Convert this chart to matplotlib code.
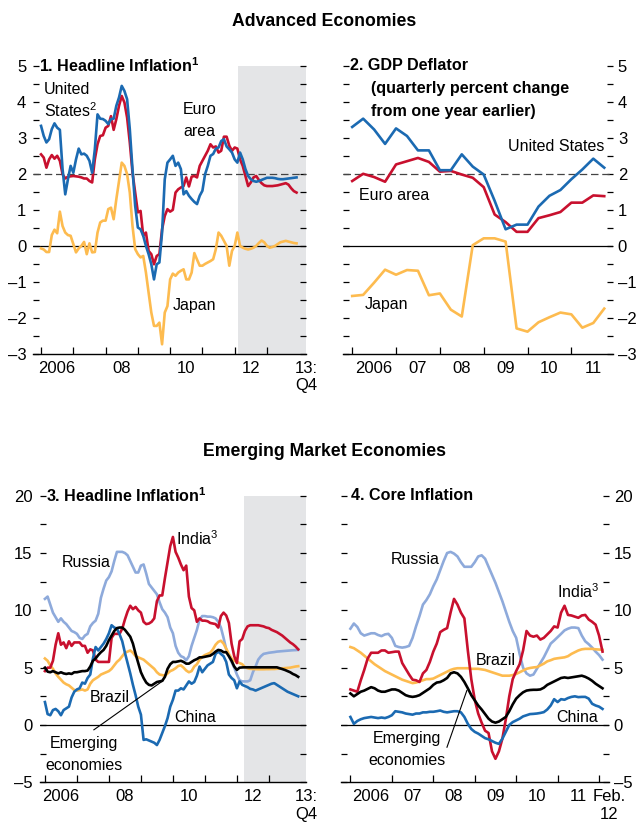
import numpy as np
import pandas as pd
import matplotlib
matplotlib.use('Agg')
import matplotlib.pyplot as plt
from matplotlib.transforms import blended_transform_factory

FONT = ['Liberation Sans', 'DejaVu Sans']
plt.rcParams['font.family'] = FONT
plt.rcParams['font.size'] = 11.5
plt.rcParams['mathtext.default'] = 'regular'

# ---------------- data ----------------
hl_dates = pd.period_range('2006-01', '2013-12', freq='M')
gdp_dates = pd.period_range('2006Q1', '2011Q4', freq='Q')
core_dates = pd.period_range('2006-01', '2012-02', freq='M')

us_headline = [3.33, 3.05, 2.87, 2.96, 3.24, 3.4, 3.28, 3.22, 2.13, 1.43, 1.85, 2.22,
               2.03, 2.4, 2.7, 2.54, 2.56, 2.5, 2.36, 2.03, 2.68, 3.65, 3.53, 3.52,
               3.47, 3.38, 3.52, 3.53, 3.89, 4.12, 4.44, 4.3, 4.07, 3.24, 2.13, 1.11,
               0.51, 0.46, 0.28, 0.0, -0.23, -0.51, -0.93, -0.51, -0.46, 0.37, 1.85, 2.31,
               2.4, 2.5, 2.22, 2.31, 2.13, 1.43, 1.52, 1.39, 1.3, 1.22, 1.16, 1.39,
               1.53, 1.99, 2.22, 2.5, 2.55, 2.7, 2.73, 2.91, 2.96, 2.76, 2.68, 2.59,
               2.4, 2.31, 2.59, 2.4, 2.13, 1.94, 1.85, 1.8, 1.78, 1.8, 1.83, 1.86,
               1.89, 1.89, 1.89, 1.88, 1.86, 1.85, 1.85, 1.86, 1.87, 1.88, 1.89, 1.9]
euro_headline = [2.54, 2.45, 2.17, 2.4, 2.52, 2.42, 2.5, 2.36, 1.99, 1.87, 1.92, 1.93,
                 1.94, 1.93, 1.92, 1.9, 1.87, 1.87, 1.8, 1.76, 2.4, 2.82, 3.05, 3.07,
                 3.28, 3.33, 3.6, 3.22, 3.52, 3.89, 4.16, 3.98, 3.56, 2.87, 2.04, 1.48,
                 0.93, 0.97, 0.28, 0.37, -0.14, -0.23, -0.51, -0.28, -0.23, 0.46, 0.83, 1.02,
                 0.95, 1.0, 1.48, 1.57, 1.62, 1.66, 1.9, 1.65, 1.92, 1.94, 1.9, 2.22,
                 2.36, 2.5, 2.64, 2.82, 2.73, 2.76, 2.59, 2.64, 3.03, 3.03, 2.78, 2.64,
                 2.73, 2.7, 2.4, 2.22, 1.94, 1.66, 1.76, 1.9, 1.94, 1.83, 1.74, 1.68,
                 1.66, 1.66, 1.66, 1.67, 1.68, 1.7, 1.72, 1.74, 1.7, 1.6, 1.52, 1.48]
japan_headline = [-0.07, -0.1, -0.17, -0.17, 0.3, 0.45, 0.35, 0.95, 0.55, 0.37, 0.3, 0.28,
                  0.05, -0.18, -0.07, 0.0, 0.11, -0.23, 0.07, -0.18, -0.17, 0.37, 0.65, 0.7,
                  0.7, 1.02, 1.06, 0.74, 1.3, 1.8, 2.31, 2.22, 1.99, 1.48, 0.56, -0.09,
                  -0.23, -0.32, -0.28, -0.74, -1.3, -1.85, -2.22, -2.22, -2.13, -2.73, -1.85, -1.67,
                  -0.93, -0.77, -0.83, -0.74, -0.69, -0.65, -0.93, -0.93, -0.74, -0.2, -0.38, -0.55,
                  -0.55, -0.5, -0.46, -0.42, -0.37, -0.09, 0.37, 0.28, 0.14, 0.0, -0.55, -0.14,
                  0.0, 0.37, 0.0, -0.05, -0.08, -0.1, -0.08, -0.05, 0.0, 0.08, 0.15, 0.1,
                  0.0, -0.05, -0.03, 0.0, 0.05, 0.1, 0.12, 0.14, 0.12, 0.1, 0.08, 0.07]

us_deflator = [3.3, 3.53, 3.23, 2.83, 3.26, 3.05, 2.65, 2.65, 2.1, 2.1, 2.54, 2.2,
               1.98, 1.25, 0.46, 0.59, 0.59, 1.09, 1.39, 1.55, 1.85, 2.12, 2.42, 2.17]
euro_deflator = [1.8, 2.0, 1.91, 1.78, 2.26, 2.35, 2.44, 2.33, 2.06, 2.08, 1.98, 1.89,
                 1.63, 0.87, 0.66, 0.39, 0.39, 0.77, 0.85, 0.94, 1.2, 1.2, 1.4, 1.38]
japan_deflator = [-1.39, -1.36, -1.02, -0.66, -0.8, -0.67, -0.69, -1.37, -1.32, -1.77, -1.96, 0.02,
                  0.21, 0.21, 0.12, -2.29, -2.38, -2.12, -1.98, -1.85, -1.9, -2.27, -2.14, -1.74]

russia_headline = [11.0, 11.2, 10.5, 9.8, 9.4, 9.0, 9.3, 9.0, 8.8, 8.5, 8.2, 8.1,
                   7.95, 7.6, 7.5, 7.8, 7.95, 8.6, 8.9, 9.1, 9.7, 11.1, 11.9, 12.6,
                   12.9, 13.4, 14.3, 15.1, 15.1, 15.1, 15.0, 14.8, 14.3, 13.8, 13.3, 13.3,
                   13.9, 14.0, 13.2, 12.3, 12.0, 11.7, 11.4, 10.7, 10.1, 9.8, 9.4, 8.5,
                   8.0, 6.9, 6.3, 6.0, 5.9, 5.65, 6.0, 6.9, 7.6, 8.3, 9.2, 9.5,
                   9.5, 9.45, 9.45, 9.4, 9.3, 9.0, 8.5, 7.6, 6.6, 6.0, 5.5, 5.0,
                   4.4, 3.9, 3.8, 3.8, 3.8, 3.9, 4.6, 5.1, 5.7, 6.0, 6.2, 6.25,
                   6.3, 6.33, 6.36, 6.4, 6.42, 6.44, 6.46, 6.48, 6.5, 6.52, 6.53, 6.55]
india_headline = [4.7, 5.0, 5.0, 5.6, 7.0, 8.0, 7.0, 7.2, 6.7, 7.3, 6.9, 7.2,
                  7.2, 7.2, 6.9, 6.9, 6.3, 6.6, 6.5, 5.7, 5.5, 5.5, 5.5, 5.5,
                  5.5, 7.6, 7.95, 7.95, 7.95, 8.4, 9.2, 9.9, 10.4, 10.1, 10.3, 10.0,
                  9.8, 9.0, 8.8, 8.85, 9.0, 9.3, 10.8, 11.3, 11.3, 12.8, 14.2, 15.6,
                  16.4, 15.1, 14.6, 14.0, 13.5, 13.9, 11.2, 10.2, 10.0, 9.0, 9.3, 9.1,
                  9.1, 9.05, 8.9, 8.85, 8.8, 8.5, 9.5, 9.8, 9.55, 8.9, 7.1, 6.0,
                  5.4, 7.3, 7.5, 8.2, 8.6, 8.7, 8.7, 8.7, 8.7, 8.65, 8.6, 8.5,
                  8.45, 8.3, 8.2, 8.1, 7.95, 7.8, 7.6, 7.4, 7.2, 7.05, 6.85, 6.6]
china_headline = [2.0, 0.95, 0.85, 1.3, 1.4, 1.2, 0.85, 1.3, 1.45, 1.6, 2.4, 2.9,
                  3.1, 3.2, 3.7, 3.6, 4.1, 4.4, 5.8, 6.8, 6.5, 6.8, 7.1, 7.5,
                  8.0, 8.7, 8.5, 8.4, 7.9, 7.3, 6.3, 5.4, 4.5, 3.5, 2.6, 1.6,
                  0.9, -1.3, -1.25, -1.35, -1.45, -1.55, -1.75, -1.3, -0.7, -0.1, 0.6, 1.6,
                  2.2, 3.0, 3.0, 3.2, 3.1, 3.45, 3.8, 3.6, 3.75, 4.3, 5.1, 4.6,
                  4.9, 5.2, 5.35, 5.5, 6.2, 6.4, 6.2, 6.0, 5.5, 4.4, 4.1, 3.9,
                  3.2, 3.8, 3.5, 3.4, 3.3, 3.15, 3.1, 3.0, 3.1, 3.2, 3.3, 3.4,
                  3.5, 3.6, 3.65, 3.5, 3.35, 3.2, 3.05, 2.9, 2.8, 2.7, 2.6, 2.5]
brazil_headline = [5.8, 5.6, 5.2, 4.9, 4.5, 4.2, 3.95, 3.7, 3.55, 3.45, 3.25, 3.05,
                   3.0, 3.05, 3.1, 3.0, 3.1, 3.6, 3.9, 4.05, 4.2, 4.4, 4.5, 4.6,
                   4.7, 4.9, 5.2, 5.5, 5.7, 6.0, 6.3, 6.4, 6.5, 6.3, 6.0, 5.9,
                   5.8, 5.7, 5.5, 5.3, 5.1, 4.9, 4.6, 4.4, 4.35, 4.3, 4.5, 4.7,
                   4.8, 4.95, 5.15, 5.2, 5.0, 4.75, 4.6, 4.7, 5.1, 5.3, 5.7, 5.95,
                   6.1, 6.2, 6.3, 6.6, 7.0, 7.25, 7.35, 7.1, 6.65, 6.2, 5.8, 5.6,
                   5.5, 5.4, 5.3, 5.05, 4.95, 4.9, 4.88, 4.87, 4.86, 4.86, 4.86, 4.87,
                   4.87, 4.88, 4.88, 4.9, 4.92, 4.94, 4.96, 4.98, 5.0, 5.05, 5.1, 5.13]
em_headline = [5.0, 4.65, 4.6, 4.7, 4.6, 4.5, 4.6, 4.5, 4.45, 4.5, 4.45, 4.6,
               4.6, 4.65, 4.7, 4.7, 4.75, 5.1, 5.6, 5.8, 6.1, 6.35, 6.55, 6.9,
               7.4, 7.8, 8.2, 8.45, 8.5, 8.5, 8.3, 8.0, 7.7, 7.1, 6.2, 5.4,
               4.6, 4.1, 3.7, 3.5, 3.45, 3.6, 3.75, 3.8, 3.85, 4.2, 4.9, 5.3,
               5.5, 5.5, 5.55, 5.6, 5.5, 5.35, 5.35, 5.5, 5.65, 5.75, 5.9, 5.9,
               5.95, 6.0, 6.05, 6.2, 6.4, 6.55, 6.5, 6.35, 6.35, 6.0, 5.6, 5.1,
               4.8, 5.0, 5.02, 5.03, 5.03, 5.03, 5.03, 5.03, 5.03, 5.03, 5.03, 5.03,
               5.03, 5.03, 5.03, 5.03, 4.95, 4.88, 4.8, 4.7, 4.6, 4.45, 4.35, 4.2]

russia_core = [8.4, 8.85, 8.55, 8.0, 7.8, 7.9, 8.0, 8.0, 7.85, 7.75, 7.9, 7.95,
               7.6, 6.9, 6.8, 6.75, 6.8, 6.9, 7.6, 8.6, 9.5, 10.5, 10.9, 11.4,
               12.1, 12.7, 13.5, 14.3, 15.0, 15.1, 14.95, 14.7, 14.2, 13.8, 13.8, 13.8,
               14.2, 14.7, 14.8, 14.5, 13.8, 13.1, 12.4, 11.6, 10.8, 9.9, 9.0, 8.2,
               7.6, 6.2, 5.0, 4.5, 4.3, 4.4, 4.9, 5.4, 5.9, 6.5, 7.1, 7.37,
               7.66, 7.95, 8.25, 8.4, 8.5, 8.5, 8.45, 7.8, 7.3, 7.05, 6.75, 6.4,
               6.1, 5.7]
india_core = [3.1, 3.0, 2.9, 3.9, 4.8, 5.8, 6.3, 6.3, 6.3, 6.5, 6.5, 6.3,
              6.35, 6.4, 6.4, 5.4, 4.9, 4.4, 3.95, 3.9, 3.75, 4.5, 4.8, 5.5,
              6.4, 7.1, 8.1, 8.3, 8.45, 9.8, 11.0, 10.5, 9.8, 9.3, 6.5, 4.0,
              2.2, 1.0, 0.2, -0.5, -0.7, -2.3, -2.95, -2.3, -1.2, 0.5, 2.5, 4.0,
              4.7, 5.3, 6.5, 8.2, 7.8, 7.7, 7.8, 7.45, 7.6, 7.9, 8.2, 8.6,
              8.5, 9.8, 10.4, 9.6, 9.55, 9.45, 9.35, 9.55, 9.6, 9.2, 9.0, 8.75,
              7.8, 6.4]
brazil_core = [6.8, 6.7, 6.5, 6.3, 6.05, 5.8, 5.55, 5.3, 5.1, 4.9, 4.7, 4.55,
               4.4, 4.25, 4.1, 3.95, 3.85, 3.75, 3.65, 3.7, 3.8, 3.9, 4.0, 4.0,
               4.05, 4.2, 4.35, 4.5, 4.65, 4.8, 4.9, 4.95, 4.95, 4.95, 4.95, 4.9,
               4.9, 4.9, 4.85, 4.8, 4.7, 4.6, 4.5, 4.4, 4.3, 4.3, 4.3, 4.35,
               4.45, 4.6, 4.75, 4.9, 4.97, 5.02, 5.05, 5.2, 5.35, 5.55, 5.65, 5.77,
               5.82, 5.86, 5.9, 6.0, 6.2, 6.35, 6.5, 6.6, 6.64, 6.64, 6.64, 6.6,
               6.58, 6.55]
em_core = [2.75, 2.5, 2.7, 2.9, 3.0, 3.15, 3.3, 3.2, 3.0, 2.9, 2.9, 3.0,
           3.1, 3.1, 3.0, 2.8, 2.6, 2.5, 2.45, 2.5, 2.6, 2.8, 3.0, 3.2,
           3.5, 3.7, 3.75, 3.9, 4.1, 4.5, 4.6, 4.5, 4.2, 3.75, 3.2, 2.6,
           2.15, 1.7, 1.35, 0.95, 0.55, 0.3, 0.2, 0.3, 0.5, 0.7, 1.2, 1.8,
           2.3, 2.6, 2.85, 3.0, 3.05, 3.07, 3.07, 3.1, 3.25, 3.5, 3.65, 3.8,
           3.95, 4.1, 4.15, 4.1, 4.15, 4.2, 4.25, 4.3, 4.2, 4.05, 3.85, 3.6,
           3.4, 3.2]
china_core = [0.7, 0.1, 0.35, 0.5, 0.6, 0.65, 0.7, 0.65, 0.6, 0.65, 0.6, 0.7,
              0.85, 1.2, 1.15, 1.1, 1.0, 0.95, 0.9, 1.0, 1.0, 1.1, 1.1, 1.15,
              1.15, 1.2, 1.26, 1.15, 1.1, 1.15, 1.2, 1.2, 1.1, 0.7, 0.1, -0.35,
              -0.6, -0.75, -0.95, -1.15, -1.25, -1.4, -1.55, -1.65, -1.2, -0.6, 0.0, 0.25,
              0.4, 0.55, 0.75, 0.85, 0.95, 0.97, 1.0, 1.05, 1.12, 1.35, 1.7, 2.25,
              2.0, 2.25, 2.2, 2.35, 2.45, 2.5, 2.43, 2.45, 2.45, 2.3, 1.85, 1.7,
              1.6, 1.4]

# ---------------- style ----------------
BLUE = '#1b6ab2'
RED = '#c8102e'
ORANGE = '#fdbb4f'
LBLUE = '#8eaadb'
BLACK = '#000000'
SHADE = '#e4e5e7'
LW = 1.9
TICKFS = 12
LABFS = 11.5
TITLEFS = 11.6

W, H = 638, 823
fig = plt.figure(figsize=(W / 100, H / 100), dpi=100)


def dec(periods):
    ts = periods.to_timestamp()
    return np.array(ts.year + (ts.month - 1) / 12.0)


def add_ax(l, r, t, b):
    return fig.add_axes([l / W, 1 - b / H, (r - l) / W, (b - t) / H])


def fmt(v):
    s = '%g' % v
    return s.replace('-', '\u2013')


def style(ax, ylo, yhi, ystep, labstep, side, xlo, xhi, years, labels, end_label=None):
    ax.set_xlim(xlo, xhi)
    ax.set_ylim(ylo, yhi)
    for s in ['top', 'left', 'right']:
        ax.spines[s].set_visible(False)
    ax.spines['bottom'].set_linewidth(1.0)
    ticks = np.arange(ylo, yhi + 1e-9, ystep)
    ax.set_yticks(ticks)
    ax.set_yticklabels([fmt(t) if abs(t / labstep - round(t / labstep)) < 1e-9 else '' for t in ticks])
    ax.tick_params(axis='y', which='major', direction='in', length=4, width=0.9,
                   left=True, right=True, labelleft=(side == 'left'),
                   labelright=(side == 'right'), pad=(5 if side == 'left' else 3.5),
                   labelsize=TICKFS)
    ax.set_xticks(years)
    ax.set_xticklabels([''] * len(years))
    ax.tick_params(axis='x', which='major', direction='in', length=5, width=0.9)
    mids = [y + 0.5 for y in years[:len(labels)]]
    lab = list(labels)
    if end_label:
        mids.append(xhi)
        lab.append(end_label)
    ax.set_xticks(mids, minor=True)
    ax.set_xticklabels(lab, minor=True)
    ax.tick_params(axis='x', which='minor', length=0, pad=5, labelsize=TICKFS)
    ax.axhline(0, color='black', lw=0.9, zorder=2)


# Section titles
fig.text(0.508, 1 - 22 / H, 'Advanced Economies', ha='center', va='center',
         fontweight='bold', fontsize=12.7)
fig.text(0.508, 1 - 452 / H, 'Emerging Market Economies', ha='center', va='center',
         fontweight='bold', fontsize=12.7)

# ---------- Panel 1 ----------
ax1 = add_ax(33.3, 306, 65.7, 354)
style(ax1, -3, 5, 0.5, 1, 'left', 2005.76, 2014.21, list(range(2006, 2014)),
      ['2006', '', '08', '', '10', '', '12'], '13:\nQ4')
ax1.axvspan(2012.11, 2014.21, color=SHADE, zorder=0, lw=0)
ax1.axhline(2, color='#444444', lw=0.9, dashes=(6, 3), zorder=2)
x1 = dec(hl_dates)
ax1.plot(x1, japan_headline, color=ORANGE, lw=LW, zorder=3)
ax1.plot(x1, euro_headline, color=RED, lw=LW, zorder=4)
ax1.plot(x1, us_headline, color=BLUE, lw=LW, zorder=5)
tr1 = blended_transform_factory(ax1.transAxes, ax1.transData)
ax1.text(0.022, 5, '1. Headline Inflation$^{1}$', transform=tr1, ha='left', va='center',
         fontweight='bold', fontsize=TITLEFS)
ax1.text(2006.09, 4.35, 'United', ha='left', va='center', fontsize=LABFS)
ax1.text(2006.09, 3.74, 'States$^{2}$', ha='left', va='center', fontsize=LABFS)
ax1.text(2010.9, 3.79, 'Euro', ha='center', va='center', fontsize=LABFS)
ax1.text(2010.9, 3.18, 'area', ha='center', va='center', fontsize=LABFS)
ax1.text(2010.75, -1.65, 'Japan', ha='center', va='center', fontsize=LABFS)

# ---------- Panel 2 ----------
ax2 = add_ax(343, 613, 65.7, 354)
style(ax2, -3, 5, 0.5, 1, 'right', 2005.79, 2011.95, list(range(2006, 2012)),
      ['2006', '07', '08', '09', '10', '11'])
ax2.axhline(2, color='#444444', lw=0.9, dashes=(6, 3), zorder=2)
q = gdp_dates.to_timestamp()
x2 = np.array(q.year + (q.month - 1) / 12.0)
ax2.plot(x2, japan_deflator, color=ORANGE, lw=LW, zorder=3)
ax2.plot(x2, euro_deflator, color=RED, lw=LW, zorder=4)
ax2.plot(x2, us_deflator, color=BLUE, lw=LW, zorder=5)
tr2 = blended_transform_factory(ax2.transAxes, ax2.transData)
ax2.text(0.025, 5, '2. GDP Deflator', transform=tr2, ha='left', va='center',
         fontweight='bold', fontsize=TITLEFS)
ax2.text(0.104, 4.36, '(quarterly percent change', transform=tr2, ha='left', va='center',
         fontweight='bold', fontsize=TITLEFS)
ax2.text(0.104, 3.72, 'from one year earlier)', transform=tr2, ha='left', va='center',
         fontweight='bold', fontsize=TITLEFS)
ax2.text(2010.66, 2.77, 'United States', ha='center', va='center', fontsize=LABFS)
ax2.text(2006.95, 1.39, 'Euro area', ha='center', va='center', fontsize=LABFS)
ax2.text(2006.78, -1.62, 'Japan', ha='center', va='center', fontsize=LABFS)

# ---------- Panel 3 ----------
ax3 = add_ax(39.5, 306, 495.7, 782.3)
style(ax3, -5, 20, 2.5, 5, 'left', 2005.83, 2014.16, list(range(2006, 2014)),
      ['2006', '', '08', '', '10', '', '12'], '13:\nQ4')
ax3.axvspan(2012.23, 2014.16, color=SHADE, zorder=0, lw=0)
x3 = dec(hl_dates)
ax3.plot(x3, russia_headline, color=LBLUE, lw=LW, zorder=3)
ax3.plot(x3, brazil_headline, color=ORANGE, lw=LW, zorder=3)
ax3.plot(x3, india_headline, color=RED, lw=LW, zorder=4)
ax3.plot(x3, china_headline, color=BLUE, lw=LW, zorder=4)
ax3.plot(x3, em_headline, color=BLACK, lw=LW, zorder=5)
tr3 = blended_transform_factory(ax3.transAxes, ax3.transData)
ax3.text(0.024, 20, '3. Headline Inflation$^{1}$', transform=tr3, ha='left', va='center',
         fontweight='bold', fontsize=TITLEFS)
ax3.text(2007.28, 14.15, 'Russia', ha='center', va='center', fontsize=LABFS)
ax3.text(2010.75, 16.25, 'India$^{3}$', ha='center', va='center', fontsize=LABFS)
ax3.text(2008.03, 2.43, 'Brazil', ha='center', va='center', fontsize=LABFS)
ax3.text(2010.71, 0.68, 'China', ha='center', va='center', fontsize=LABFS)
ax3.text(2007.23, -1.64, 'Emerging', ha='center', va='center', fontsize=LABFS)
ax3.text(2007.23, -3.53, 'economies', ha='center', va='center', fontsize=LABFS)
ax3.plot([2007.53, 2009.70], [-0.42, 3.88], color='black', lw=0.8, zorder=6)

# ---------- Panel 4 ----------
ax4 = add_ax(341.3, 609, 495.7, 782.3)
style(ax4, -5, 20, 2.5, 5, 'right', 2005.78, 2012.24, list(range(2006, 2013)),
      ['2006', '07', '08', '09', '10', '11'], 'Feb.\n12')
x4 = dec(core_dates)
ax4.plot(x4, russia_core, color=LBLUE, lw=LW, zorder=3)
ax4.plot(x4, brazil_core, color=ORANGE, lw=LW, zorder=3)
ax4.plot(x4, india_core, color=RED, lw=LW, zorder=4)
ax4.plot(x4, china_core, color=BLUE, lw=LW, zorder=4)
ax4.plot(x4, em_core, color=BLACK, lw=LW, zorder=5)
tr4 = blended_transform_factory(ax4.transAxes, ax4.transData)
ax4.text(0.037, 20, '4. Core Inflation', transform=tr4, ha='left', va='center',
         fontweight='bold', fontsize=TITLEFS)
ax4.text(2007.56, 14.44, 'Russia', ha='center', va='center', fontsize=LABFS)
ax4.text(2011.50, 11.59, 'India$^{3}$', ha='center', va='center', fontsize=LABFS)
ax4.text(2009.50, 5.63, 'Brazil', ha='center', va='center', fontsize=LABFS)
ax4.text(2011.46, 0.63, 'China', ha='center', va='center', fontsize=LABFS)
ax4.text(2007.36, -1.2, 'Emerging', ha='center', va='center', fontsize=LABFS)
ax4.text(2007.37, -3.1, 'economies', ha='center', va='center', fontsize=LABFS)
ax4.plot([2008.33, 2008.81], [-1.94, 3.01], color='black', lw=0.8, zorder=6)

fig.savefig('out.png', dpi=100)
